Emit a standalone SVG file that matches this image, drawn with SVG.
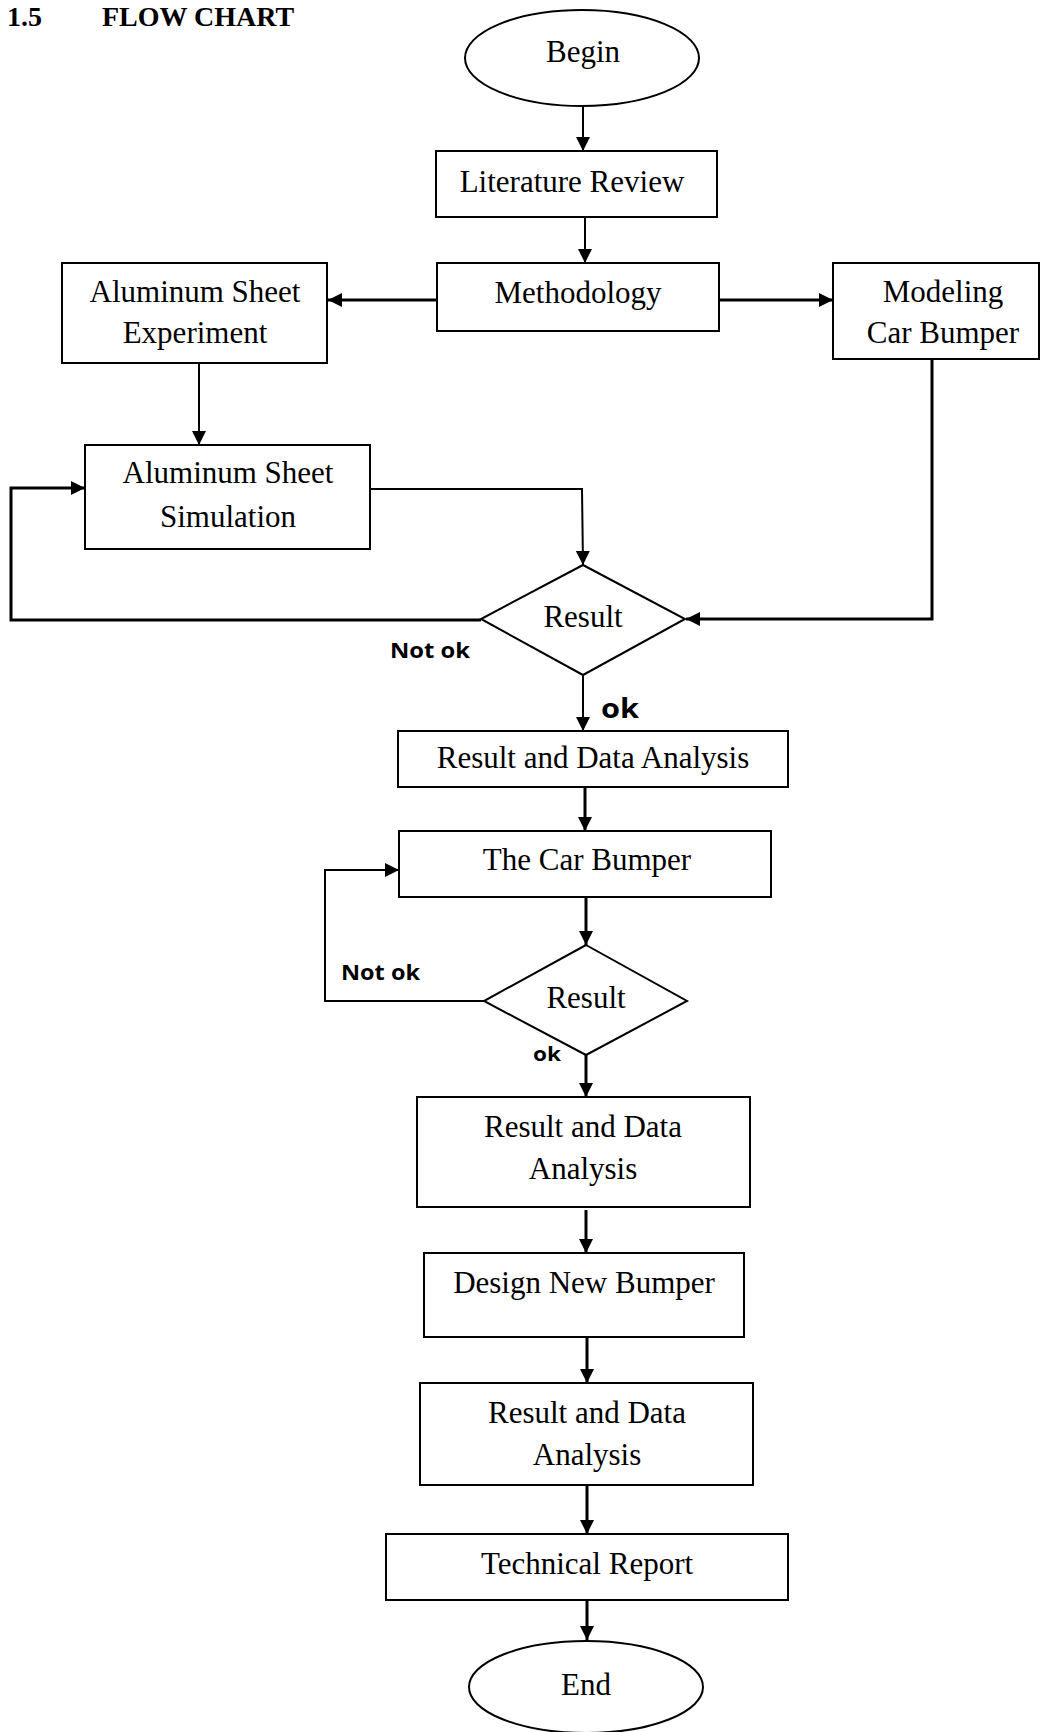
<svg xmlns="http://www.w3.org/2000/svg" width="1041" height="1732" viewBox="0 0 1041 1732">
<style>
.box{fill:#fff;stroke:#000;stroke-width:2}
.t{font-family:"Liberation Serif","Times New Roman",serif;font-size:31px;fill:#000;text-anchor:middle}
.lbl{font-family:"Open Sans","Noto Sans",sans-serif;font-weight:bold;fill:#000}
.c{fill:none;stroke:#000;stroke-width:2}
.ck{fill:none;stroke:#000;stroke-width:3}
.ttl{font-family:"Liberation Serif","Times New Roman",serif;font-weight:bold;font-size:28px;fill:#000}
</style>
<defs>
<marker id="ah" markerUnits="userSpaceOnUse" markerWidth="15" markerHeight="15" refX="14" refY="7" orient="auto">
<path d="M0,0 L14,7 L0,14 z" fill="#000"/>
</marker>
</defs>
<g id="title">
<text class="ttl" x="7" y="26">1.5</text>
<text class="ttl" x="102" y="26">FLOW CHART</text>
</g>
<g id="connectors">
<line class="c" x1="583" y1="107" x2="583" y2="151" marker-end="url(#ah)"/>
<line class="c" x1="585" y1="218" x2="585" y2="263" marker-end="url(#ah)"/>
<line class="ck" x1="437" y1="300" x2="328" y2="300" marker-end="url(#ah)"/>
<line class="ck" x1="719" y1="300" x2="833" y2="300" marker-end="url(#ah)"/>
<line class="c" x1="199" y1="363" x2="199" y2="445" marker-end="url(#ah)"/>
<polyline class="c" points="370,489 582,489 583,565" marker-end="url(#ah)"/>
<polyline class="ck" points="932,359 932,619 686,619" marker-end="url(#ah)"/>
<polyline class="ck" points="481,620 11,620 11,488 85,488" marker-end="url(#ah)"/>
<line class="c" x1="583" y1="675" x2="583" y2="731" marker-end="url(#ah)"/>
<line class="ck" x1="585" y1="787" x2="585" y2="831" marker-end="url(#ah)"/>
<line class="ck" x1="586" y1="897" x2="586" y2="945" marker-end="url(#ah)"/>
<polyline class="c" points="484,1001 325,1001 325,870 399,870" marker-end="url(#ah)"/>
<line class="ck" x1="586" y1="1055" x2="586" y2="1097" marker-end="url(#ah)"/>
<line class="ck" x1="586" y1="1210" x2="586" y2="1253" marker-end="url(#ah)"/>
<line class="ck" x1="587" y1="1337" x2="587" y2="1383" marker-end="url(#ah)"/>
<line class="ck" x1="587" y1="1485" x2="587" y2="1534" marker-end="url(#ah)"/>
<line class="ck" x1="587" y1="1600" x2="587" y2="1640" marker-end="url(#ah)"/>
<text class="lbl" x="390" y="658" font-size="22" textLength="80" lengthAdjust="spacingAndGlyphs">Not ok</text>
<text class="lbl" x="601" y="718" font-size="26" textLength="38" lengthAdjust="spacingAndGlyphs">ok</text>
<text class="lbl" x="341" y="980" font-size="22" textLength="79" lengthAdjust="spacingAndGlyphs">Not ok</text>
<text class="lbl" x="533" y="1061" font-size="20" textLength="28" lengthAdjust="spacingAndGlyphs">ok</text>
</g>
<g id="begin"><ellipse class="box" cx="582" cy="58" rx="117" ry="48"/><text class="t" x="583" y="62">Begin</text></g>
<g id="literature"><rect class="box" x="436" y="151" width="281" height="66"/><text class="t" x="572" y="192">Literature Review</text></g>
<g id="methodology"><rect class="box" x="437" y="263" width="282" height="68"/><text class="t" x="578" y="303">Methodology</text></g>
<g id="al-experiment"><rect class="box" x="62" y="263" width="265" height="100"/><text class="t" x="195" y="302">Aluminum Sheet</text><text class="t" x="195" y="343">Experiment</text></g>
<g id="modeling"><rect class="box" x="833" y="263" width="206" height="96"/><text class="t" x="943" y="302">Modeling</text><text class="t" x="943" y="343">Car Bumper</text></g>
<g id="al-simulation"><rect class="box" x="85" y="445" width="285" height="104"/><text class="t" x="228" y="483">Aluminum Sheet</text><text class="t" x="228" y="527">Simulation</text></g>
<g id="result1"><polygon class="box" points="583,565 685,619 583,675 481,619"/><text class="t" x="583" y="627">Result</text></g>
<g id="rda1"><rect class="box" x="398" y="731" width="390" height="56"/><text class="t" x="593" y="768">Result and Data Analysis</text></g>
<g id="car-bumper"><rect class="box" x="399" y="831" width="372" height="66"/><text class="t" x="587" y="870">The Car Bumper</text></g>
<g id="result2"><polygon class="box" points="586,945 687,1001 586,1055 484,1001"/><text class="t" x="586" y="1008">Result</text></g>
<g id="rda2"><rect class="box" x="417" y="1097" width="333" height="110"/><text class="t" x="583" y="1137">Result and Data</text><text class="t" x="583" y="1179">Analysis</text></g>
<g id="design"><rect class="box" x="424" y="1253" width="320" height="84"/><text class="t" x="584" y="1293">Design New Bumper</text></g>
<g id="rda3"><rect class="box" x="420" y="1383" width="333" height="102"/><text class="t" x="587" y="1423">Result and Data</text><text class="t" x="587" y="1465">Analysis</text></g>
<g id="report"><rect class="box" x="386" y="1534" width="402" height="66"/><text class="t" x="587" y="1574">Technical Report</text></g>
<g id="end"><ellipse class="box" cx="586" cy="1687" rx="117" ry="46"/><text class="t" x="586" y="1695">End</text></g>
</svg>
